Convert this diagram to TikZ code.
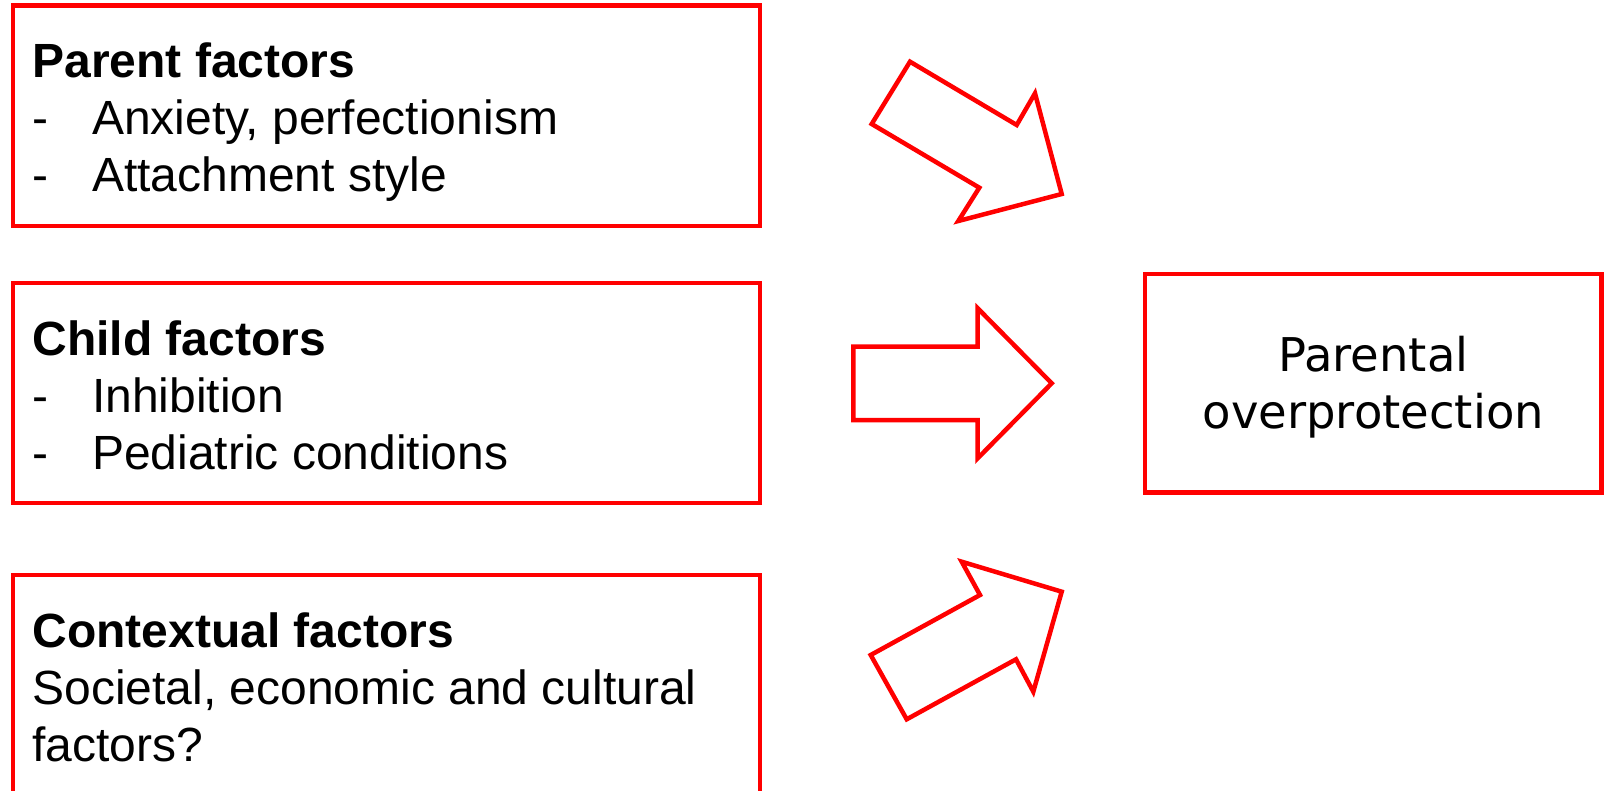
\documentclass[tikz,border=0pt]{standalone}
\usepackage{fontspec}
\setmainfont{Liberation Sans}
\newfontfamily\protfont{DejaVu Sans}
\newcommand{\dashitem}[1]{\makebox[29.85pt][l]{-}#1}

\begin{document}
\begin{tikzpicture}[x=0.5pt, y=-0.5pt,
        factorbox/.style={draw=red, line width=2.25pt, minimum width=373.5pt, minimum height=110pt, inner sep=0pt},
        outbox/.style={draw=red, line width=2.25pt, minimum width=228.25pt, minimum height=109.15pt, inner sep=0pt},
        factortext/.style={anchor=base west, inner sep=0pt, font=\fontsize{24pt}{28.5pt}\selectfont},
        outtext/.style={anchor=base, inner sep=0pt, font=\protfont\fontsize{23.25pt}{28.3pt}\selectfont},
        blockarrow/.style={draw=red, line width=2.25pt}]
                        \useasboundingbox (0, 0) rectangle (1604, 791);
                        \clip (0, 0) rectangle (1604, 791);

                        \node[factorbox, minimum height=110.35pt] (parent) at (386.5, 115.7) {};
                        \node[factorbox] (child) at (386.5, 393) {};
                        \node[factorbox] (context) at (386.5, 685) {};
                        \node[outbox] (overprot) at (1373.25, 383.3) {};

                        \node[factortext] (parenttxt) at (32, 77.7) {\parbox[t]{370pt}{\textbf{Parent factors}\\\dashitem{Anxiety, perfectionism}\\\dashitem{Attachment style}}};
                        \node[factortext] (childtxt) at (32, 355.4) {\parbox[t]{370pt}{\textbf{Child factors}\\\dashitem{Inhibition}\\\dashitem{Pediatric conditions}}};
                        \node[factortext] (contexttxt) at (32, 647.4) {\parbox[t]{370pt}{\textbf{Contextual factors}\\Societal, economic and cultural\\factors?}};
                        \node[outtext] (overprottxt) at (1373.3, 371.7) {\parbox[t]{220pt}{\centering Parental\\overprotection}};

                        \draw[blockarrow] (910, 61.7) -- (1016.7, 125) -- (1035, 93.3) -- (1061.7, 194) -- (958.3, 221) -- (979.3, 187.7) -- (871.7, 124) -- cycle;
                        \draw[blockarrow] (853.3, 346.7) -- (977.7, 346.7) -- (977.7, 308.3) -- (1051.7, 383.3) -- (977.7, 458.3) -- (977.7, 420) -- (853.3, 420) -- cycle;
                        \draw[blockarrow] (870.7, 655) -- (980, 595) -- (961.7, 561.7) -- (1061.7, 591.7) -- (1033.3, 691.7) -- (1016, 659.3) -- (906.7, 719.3) -- cycle;
                    \end{tikzpicture}
\end{document}
